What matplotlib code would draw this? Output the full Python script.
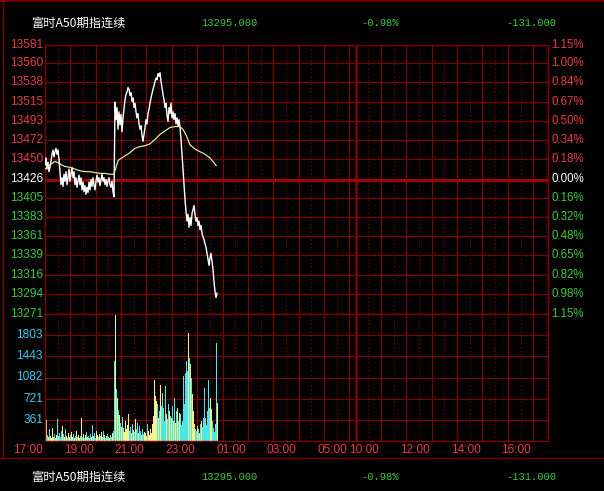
import numpy as np
import matplotlib
matplotlib.use('Agg')
import matplotlib.pyplot as plt
from matplotlib.transforms import blended_transform_factory as btf, offset_copy
from matplotlib.lines import Line2D

# ---------------- data ----------------
title_text = '富时A50期指连续'
last_price_text = '13295.000'
change_pct_text = '-0.98%'
change_text = '-131.000'

prev_close = 13426
price_ticks = [13581, 13560, 13538, 13515, 13493, 13472, 13450, 13426,
               13405, 13383, 13361, 13339, 13316, 13294, 13271]
pct_labels = ['1.15%', '1.00%', '0.84%', '0.67%', '0.50%', '0.34%', '0.18%', '0.00%',
              '0.16%', '0.32%', '0.48%', '0.65%', '0.82%', '0.98%', '1.15%']
vol_ticks = [361, 721, 1082, 1443, 1803]
vol_max = 2164
time_labels = ['17:00', '19:00', '21:00', '23:00', '01:00', '03:00', '05:00',
               '10:00', '12:00', '14:00', '16:00']

sample_minutes = 2.366  # spacing of the samples below (minutes from 17:00)

price = [
    13443, 13451, 13438, 13446, 13435, 13440, 13447, 13455, 13460, 13452,
    13458, 13462, 13455, 13460, 13449, 13435, 13420, 13428, 13418, 13432,
    13424, 13435, 13420, 13428, 13438, 13424, 13432, 13440, 13428, 13435,
    13420, 13428, 13417, 13424, 13431, 13420, 13428, 13414, 13423, 13412,
    13419, 13409, 13417, 13411, 13423, 13414, 13426, 13418, 13428, 13420,
    13414, 13424, 13431, 13423, 13428, 13419, 13426, 13432, 13424, 13428,
    13420, 13426, 13418, 13424, 13428, 13420, 13417, 13424, 13412, 13406,
    13515, 13495, 13509, 13484, 13504, 13489, 13501, 13481, 13497, 13507,
    13518, 13524, 13527, 13532, 13530, 13523, 13526, 13516, 13520, 13509,
    13514, 13504, 13497, 13502, 13490, 13484, 13488, 13477, 13470, 13478,
    13486, 13495, 13490, 13502, 13507, 13514, 13520, 13525, 13530, 13534,
    13539, 13543, 13541, 13548, 13545, 13549, 13539, 13532, 13524, 13518,
    13509, 13514, 13500, 13493, 13509, 13502, 13514, 13497, 13504, 13495,
    13502, 13490, 13497, 13488, 13495, 13486, 13472, 13455, 13438, 13420,
    13403, 13389, 13378, 13386, 13371, 13382, 13373, 13387, 13391, 13396,
    13386, 13378, 13382, 13373, 13378, 13368, 13373, 13364, 13360, 13357,
    13352, 13348, 13341, 13334, 13327, 13336, 13341, 13331, 13322, 13308,
    13297, 13290, 13295,
]

volume = [
    85, 358, 102, 68, 204, 85, 51, 222, 68, 119,
    51, 102, 375, 85, 136, 68, 170, 256, 119, 68,
    204, 85, 51, 136, 68, 102, 153, 68, 119, 51,
    85, 170, 68, 102, 51, 85, 392, 68, 119, 51,
    102, 153, 68, 85, 51, 119, 68, 273, 85, 136,
    51, 170, 102, 68, 119, 85, 153, 68, 170, 102,
    51, 85, 119, 68, 51, 102, 68, 136, 170, 1363,
    2147, 886, 733, 528, 443, 307, 239, 409, 222, 153,
    341, 204, 273, 460, 170, 239, 136, 290, 187, 153,
    375, 204, 307, 136, 256, 170, 102, 204, 119, 153,
    136, 85, 290, 170, 102, 204, 136, 290, 426, 1039,
    767, 682, 630, 392, 511, 954, 596, 818, 562, 341,
    937, 460, 375, 630, 511, 426, 392, 596, 341, 733,
    307, 511, 562, 341, 477, 460, 273, 341, 1108, 630,
    1159, 1363, 1193, 1840, 1414, 1312, 1074, 801, 511, 290,
    204, 170, 256, 204, 136, 290, 341, 239, 392, 903,
    392, 273, 511, 1039, 562, 733, 545, 341, 222, 153,
    290, 1670, 648,
]

avg_minutes = [0, 12, 24, 35, 47, 59, 71, 83, 95, 106,
               118, 130, 142, 154, 163, 168, 173, 182, 192, 201,
               213, 225, 237, 248, 260, 272, 284, 296, 308, 319,
               326, 334, 343, 355, 367, 379, 390, 397, 405]
avg_price = [13438, 13443, 13447, 13444, 13441, 13440, 13438, 13436, 13435, 13435,
             13434, 13433, 13433, 13432, 13432, 13440, 13448, 13451, 13454, 13457,
             13462, 13464, 13465, 13467, 13472, 13478, 13482, 13486, 13487, 13487,
             13484, 13477, 13466, 13461, 13458, 13455, 13451, 13447, 13442]

# ---------------- styles ----------------
BG = 'black'
GRID = '#800000'
RED = '#e83c3c'
GREEN = '#3cc83c'
CYAN = '#3cc8e6'
WHITE = '#ffffff'
UP_BAR = '#f5f58c'
DN_BAR = '#4ee6e6'
AVG = '#f0f0a0'
NUM_FONT = ['Liberation Sans', 'DejaVu Sans']
CJK_FONT = ['Noto Sans CJK SC', 'DejaVu Sans']
MONO_FONT = ['Liberation Mono', 'DejaVu Sans Mono']

W, H = 604, 491
NIGHT_END = 735   # 05:15
DAY_END = 1190    # 16:35


def session_minute(label):
    hh, mm = map(int, label.split(':'))
    if hh >= 17:
        return (hh - 17) * 60 + mm
    if hh < 9:
        return (hh + 7) * 60 + mm
    return NIGHT_END + (hh - 9) * 60 + mm


fig = plt.figure(figsize=(W / 100, H / 100), dpi=100, facecolor=BG)

L, R = 45, 548
P_TOP, P_BOT, V_BOT = 45, 314, 441
ax_p = fig.add_axes([L / W, 1 - P_BOT / H, (R - L) / W, (P_BOT - P_TOP) / H])
ax_v = fig.add_axes([L / W, 1 - V_BOT / H, (R - L) / W, (V_BOT - P_BOT) / H])

for ax in (ax_p, ax_v):
    ax.set_facecolor(BG)
    ax.set_xlim(0, DAY_END)
    ax.set_xticks([])
    ax.set_yticks([])
    for s in ax.spines.values():
        s.set_color(GRID)
        s.set_linewidth(1.0)

ax_p.set_ylim(price_ticks[-1], price_ticks[0])
ax_v.set_ylim(0, vol_max)

# vertical grid
night_hours = [f'{h:02d}:00' for h in list(range(18, 24)) + list(range(0, 6))]
night_half = [f'{h:02d}:30' for h in list(range(17, 24)) + list(range(0, 5))]
day_hours = [f'{h:02d}:00' for h in range(10, 17)]
day_half = [f'{h:02d}:30' for h in range(9, 17)]
for ax in (ax_p, ax_v):
    for lab in night_hours + day_hours:
        ax.axvline(session_minute(lab), color=GRID, lw=0.9, zorder=1)
    for lab in night_half + day_half:
        ax.axvline(session_minute(lab), color=GRID, lw=0.8, ls=(0, (1, 2.5)), zorder=1)
    ax.axvline(NIGHT_END, color=GRID, lw=1.8, zorder=1)

# horizontal grid
for v in price_ticks:
    if v == prev_close:
        ax_p.axhline(v, color='#a00000', lw=2.3, zorder=1)
    else:
        ax_p.axhline(v, color=GRID, lw=0.9, zorder=1)
for v in vol_ticks:
    ax_v.axhline(v, color=GRID, lw=0.9, zorder=1)

# price and average lines
price_t = np.arange(len(price)) * sample_minutes
ax_p.plot(price_t, price, color=WHITE, lw=1.0, zorder=3)
ax_p.plot(avg_minutes, avg_price, color=AVG, lw=0.85, zorder=3)

# volume bars (1-px wide crisp bars)
vol_t = np.arange(len(volume)) * sample_minutes
colors = []
for i in range(len(volume)):
    if i < len(price) and i > 0 and price[i] < price[i - 1]:
        colors.append(DN_BAR)
    else:
        colors.append(UP_BAR)
ax_v.vlines(vol_t, 0, volume, colors=colors, linewidth=0.72,
            antialiased=False, zorder=2)

# left price labels / right percentage labels
tl = btf(fig.transFigure, ax_p.transData)
for v, pl in zip(price_ticks, pct_labels):
    c = RED if v > prev_close else (WHITE if v == prev_close else GREEN)
    fig.text(43 / W, v, str(v), transform=tl, ha='right', va='center',
             color=c, fontsize=8.6, family=NUM_FONT)
    fig.text(551 / W, v, pl, transform=tl, ha='left', va='center',
             color=c, fontsize=8.3, family=NUM_FONT)

tv = btf(fig.transFigure, ax_v.transData)
for v in vol_ticks:
    fig.text(43 / W, v, str(v), transform=tv, ha='right', va='center',
             color=CYAN, fontsize=8.6, family=NUM_FONT)

# time labels
tt = offset_copy(btf(ax_v.transData, fig.transFigure), fig=fig, x=-2, y=0, units='dots')
for lab in time_labels:
    fig.text(session_minute(lab), 1 - 450 / H, lab, transform=tt, ha='right',
             va='center', color=RED, fontsize=8.6, family=NUM_FONT)

# header and footer
for yc in (23.5, 477.5):
    y = 1 - yc / H
    fig.text(78 / W, y, title_text, ha='center', va='center', color=WHITE,
             fontsize=8.8, family=CJK_FONT)
    fig.text(229 / W, y, last_price_text, ha='center', va='center', color=GREEN,
             fontsize=7.6, family=MONO_FONT)
    fig.text(380 / W, y, change_pct_text, ha='center', va='center', color=GREEN,
             fontsize=7.6, family=MONO_FONT)
    fig.text(531 / W, y, change_text, ha='center', va='center', color=GREEN,
             fontsize=7.6, family=MONO_FONT)

# outer frame lines
fig.add_artist(Line2D([0, 1], [1 - 0.5 / H, 1 - 0.5 / H], transform=fig.transFigure,
                      color=GRID, lw=1.2))
fig.add_artist(Line2D([0, 1], [1 - 458 / H, 1 - 458 / H], transform=fig.transFigure,
                      color=GRID, lw=1.0))
fig.add_artist(Line2D([3 / W, 3 / W], [1 - 458 / H, 1], transform=fig.transFigure,
                      color=GRID, lw=1.0))

fig.savefig('out.png', dpi=100, facecolor=BG)
